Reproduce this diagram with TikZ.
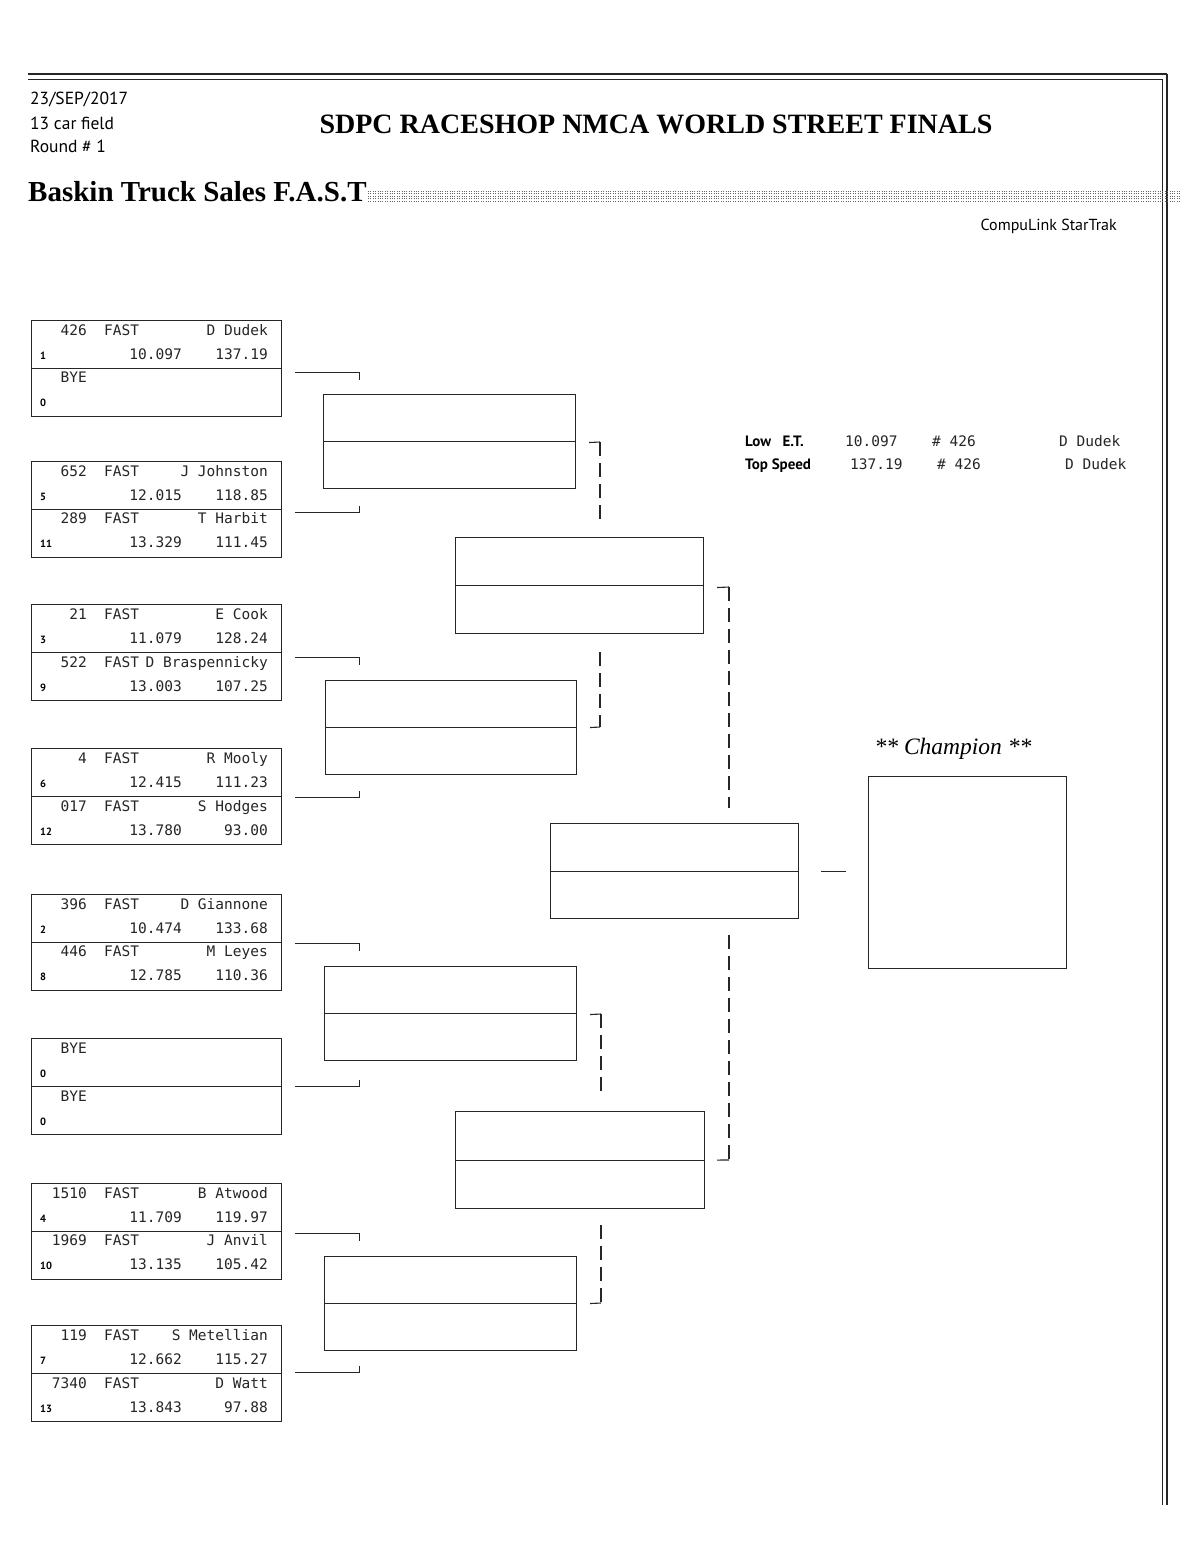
\documentclass[tikz,border=0pt]{standalone}
\usepackage{fontspec}
\setmainfont{Liberation Serif}
\newfontfamily\monof{DejaVu Sans Mono}
\newfontfamily\hsans{PT Sans}
\tikzset{
  frameline/.style={line width=1.1pt, black!85},
  rbox/.style={draw, line width=1.1pt, black!85, rectangle, inner sep=0, anchor=north west},
  mono/.style={font=\monof\fontsize{14.5}{16}\selectfont, inner sep=0, text=black!85},
  seedf/.style={font=\hsans\bfseries\fontsize{10.5}{11}\selectfont, inner sep=0, anchor=base west},
  hdr/.style={font=\hsans\fontsize{17.5}{19}\selectfont, inner sep=0, anchor=base west},
  conn/.style={line width=1.1pt, black!85},
  dconn/.style={line width=1.1pt, black!85, dash pattern=on 14pt off 7pt},
}
% half of a first-round box: id, top, car, class, name, seed, et, speed
\newcommand\racer[8]{%
  \node[mono, anchor=base east] (#1c) at (87,{#2+15}) {#3};
  \node[mono, anchor=base west] (#1k) at (104,{#2+15}) {#4};
  \node[mono, anchor=base east] (#1n) at (268,{#2+15}) {#5};
  \node[seedf] (#1s) at (40,{#2+39}) {#6};
  \node[mono, anchor=base east] (#1e) at (182,{#2+39}) {#7};
  \node[mono, anchor=base east] (#1v) at (268,{#2+39}) {#8};
}
\newcommand\byehalf[2]{%
  \node[mono, anchor=base east] (#1c) at (87,{#2+15}) {BYE};
  \node[seedf] (#1s) at (40,{#2+39}) {0};
}
\newcommand\firstbox[2]{%
  \node[rbox, minimum width=250pt, minimum height=96pt] (#1) at (31,#2) {};
  \draw[frameline] (#1.west) -- (#1.east);
}
\newcommand\laterbox[5]{%
  \node[rbox, minimum width=#4pt, minimum height=#5pt] (#1) at (#2,#3) {};
  \draw[frameline] (#1.west) -- (#1.east);
}
\begin{document}
\begin{tikzpicture}[x=1pt,y=-1pt]
\useasboundingbox (0,0) rectangle (1200,1562);
\fill[white] (0,0) rectangle (1200,1562);

% page frame
\draw[line width=2pt, black!85] (28,74) -- (1167,74);
\draw[line width=0.9pt, black!85] (28,79) -- (1162,79);
\draw[line width=0.9pt, black!85] (1162,79) -- (1162,1505);
\draw[line width=1.4pt, black!85] (1167,74) -- (1167,1505);

% header
\node[hdr] (date) at (30,105) {23/SEP/2017};
\node[hdr] (field) at (30,130) {13 car field};
\node[hdr] (round) at (30,153) {Round \# 1};
\node[font=\bfseries\fontsize{28}{30}\selectfont, inner sep=0, anchor=base] (title) at (656,134) {SDPC RACESHOP NMCA WORLD STREET FINALS};
\node[font=\bfseries\fontsize{29}{31}\selectfont, inner sep=0, anchor=base west] (cls) at (28,202) {Baskin Truck Sales F.A.S.T};
\foreach \yy in {191,193.5,...,203}
  \draw[line width=0.9pt, black!60, dash pattern=on 1pt off 1.4pt] (368,\yy) -- (1180,\yy);
\node[font=\hsans\fontsize{16}{18}\selectfont, inner sep=0, anchor=base east] (soft) at (1117,231) {CompuLink StarTrak};

% first round
\firstbox{r1a}{320}
\racer{r1aA}{320}{426}{FAST}{D Dudek}{1}{10.097}{137.19}
\byehalf{r1aB}{367}
\firstbox{r1b}{461}
\racer{r1bA}{461}{652}{FAST}{J Johnston}{5}{12.015}{118.85}
\racer{r1bB}{508}{289}{FAST}{T Harbit}{11}{13.329}{111.45}
\firstbox{r1c}{604}
\racer{r1cA}{604}{21}{FAST}{E Cook}{3}{11.079}{128.24}
\racer{r1cB}{652}{522}{FAST}{D Braspennicky}{9}{13.003}{107.25}
\firstbox{r1d}{748}
\racer{r1dA}{748}{4}{FAST}{R Mooly}{6}{12.415}{111.23}
\racer{r1dB}{796}{017}{FAST}{S Hodges}{12}{13.780}{93.00}
\firstbox{r1e}{894}
\racer{r1eA}{894}{396}{FAST}{D Giannone}{2}{10.474}{133.68}
\racer{r1eB}{941}{446}{FAST}{M Leyes}{8}{12.785}{110.36}
\firstbox{r1f}{1038}
\byehalf{r1fA}{1038}
\byehalf{r1fB}{1086}
\firstbox{r1g}{1183}
\racer{r1gA}{1183}{1510}{FAST}{B Atwood}{4}{11.709}{119.97}
\racer{r1gB}{1230}{1969}{FAST}{J Anvil}{10}{13.135}{105.42}
\firstbox{r1h}{1325}
\racer{r1hA}{1325}{119}{FAST}{S Metellian}{7}{12.662}{115.27}
\racer{r1hB}{1373}{7340}{FAST}{D Watt}{13}{13.843}{97.88}

% later rounds
\laterbox{r2a}{323}{394}{252}{94}
\laterbox{r2b}{325}{680}{251}{94}
\laterbox{r2c}{324}{966}{252}{94}
\laterbox{r2d}{324}{1256}{252}{94}
\laterbox{r3a}{455}{537}{248}{96}
\laterbox{r3b}{455}{1111}{249}{97}
\laterbox{fin}{550}{823}{248}{95}
\node[rbox, minimum width=198pt, minimum height=192pt] (champ) at (868,776) {};
\node[font=\itshape\fontsize{23.5}{25}\selectfont, inner sep=0, anchor=base] (champlbl) at (953,754) {** Champion **};

% first-round connectors
\draw[conn] ([shift={(13,4)}]r1a.east) -- ++(64,0) -- ++(0,7);
\draw[conn] ([shift={(13,3)}]r1b.east) -- ++(64,0) -- ++(0,-7);
\draw[conn] ([shift={(13,5)}]r1c.east) -- ++(64,0) -- ++(0,7);
\draw[conn] ([shift={(13,1)}]r1d.east) -- ++(64,0) -- ++(0,-7);
\draw[conn] ([shift={(13,1)}]r1e.east) -- ++(64,0) -- ++(0,7);
\draw[conn] ([shift={(13,0)}]r1f.east) -- ++(64,0) -- ++(0,-7);
\draw[conn] ([shift={(13,2)}]r1g.east) -- ++(64,0) -- ++(0,7);
\draw[conn] ([shift={(13,-1)}]r1h.east) -- ++(64,0) -- ++(0,-7);

% second-round connectors
\coordinate (a1) at (600,520);
\coordinate (a2) at (600,652);
\draw[conn] ([shift={(13,1)}]r2a.east) -- (600,442);
\draw[dconn] (600,442) -- (a1);
\draw[dconn] (a2) -- (600,727);
\draw[conn] (600,727) -- ([shift={(13,0)}]r2b.east);
\coordinate (c1) at (601,1095);
\coordinate (c2) at (601,1225);
\draw[conn] ([shift={(13,1)}]r2c.east) -- (601,1014);
\draw[dconn] (601,1014) -- (c1);
\draw[dconn] (c2) -- (601,1303);
\draw[conn] (601,1303) -- ([shift={(13,0)}]r2d.east);

% third-round connectors
\coordinate (b1) at (729,808);
\coordinate (b2) at (729,935);
\draw[conn] ([shift={(13,2)}]r3a.east) -- (729,587);
\draw[dconn] (729,587) -- (b1);
\draw[dconn] (b2) -- (729,1160);
\draw[conn] (729,1160) -- ([shift={(12,0)}]r3b.east);

% final connector
\coordinate (fc) at ([xshift=22pt]fin.east);
\coordinate (fd) at ([xshift=-22pt]champ.west);
\draw[conn] (fc) -- (fc -| fd);

% records
\node[font=\hsans\bfseries\fontsize{15}{17}\selectfont, inner sep=0, anchor=base west] (lowl) at (745,446) {Low\ \ \ E.T.};
\node[mono, anchor=base west] (lowe) at (845,446) {10.097};
\node[mono, anchor=base west] (lown) at (932,446) {\# 426};
\node[mono, anchor=base west] (lowd) at (1059,446) {D Dudek};
\node[font=\hsans\bfseries\fontsize{15}{17}\selectfont, inner sep=0, anchor=base west] (topl) at (745,469) {Top Speed};
\node[mono, anchor=base west] (tope) at (850,469) {137.19};
\node[mono, anchor=base west] (topn) at (937,469) {\# 426};
\node[mono, anchor=base west] (topd) at (1065,469) {D Dudek};
\end{tikzpicture}
\end{document}
